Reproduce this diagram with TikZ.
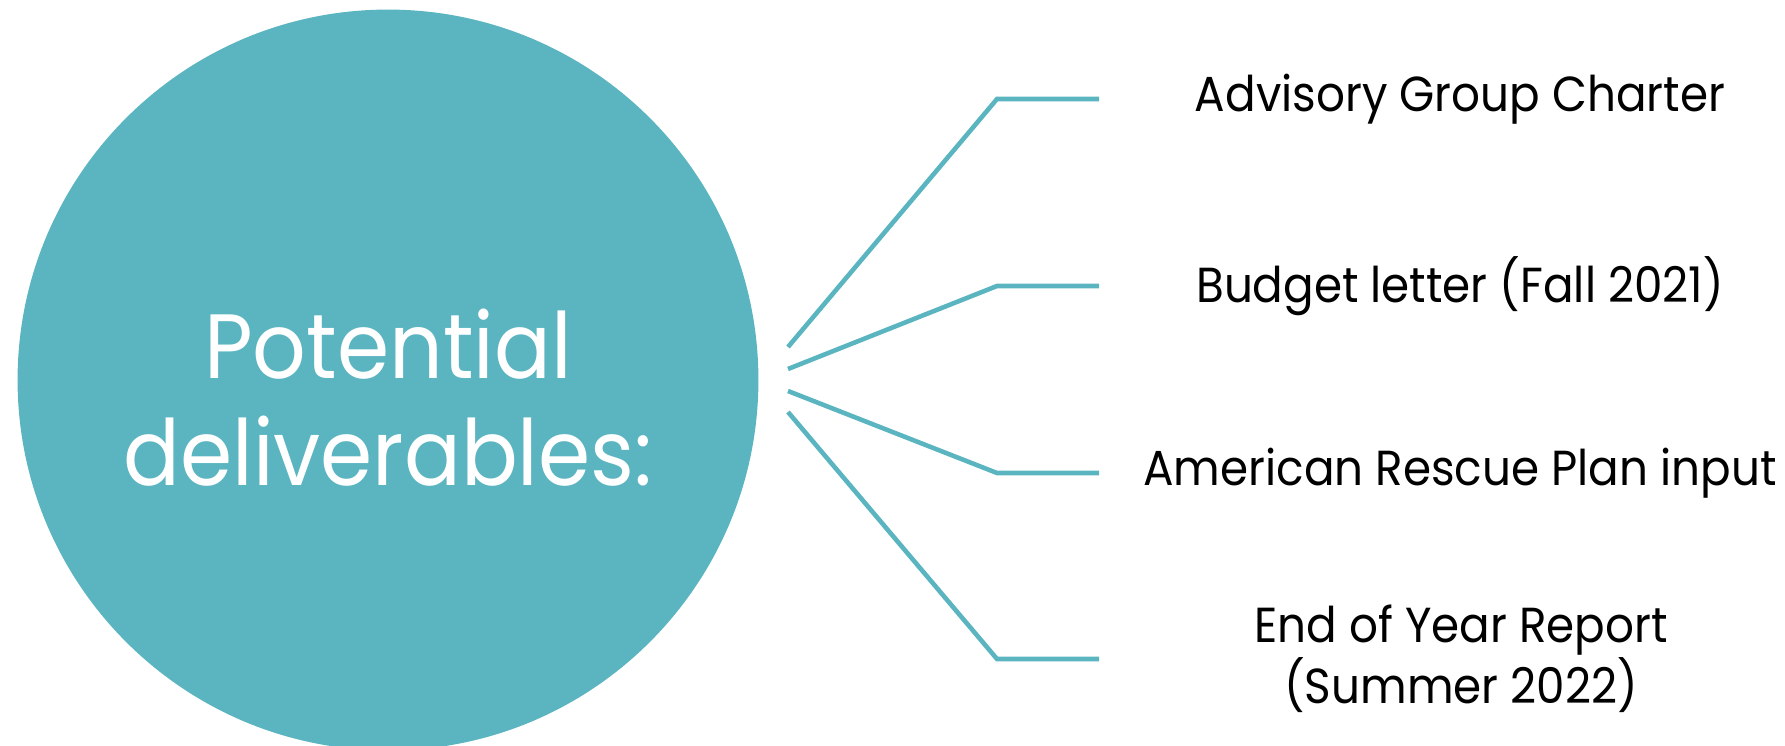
\documentclass[tikz,border=0pt]{standalone}
\usepackage{fontspec}
\usepackage{tikz}
\newfontfamily\gothic[FakeStretch=0.92]{Poppins}
\definecolor{teal}{HTML}{5AB5C1}

\begin{document}
\begin{tikzpicture}[x=0.02cm,y=-0.02cm,
		hub/.style={circle,fill=teal,minimum size=14.82cm,inner sep=0pt},
		title/.style={text=white,align=center,font=\gothic\fontsize{52}{61}\selectfont},
		item/.style={align=center,font=\gothic\fontsize{28}{31.3}\selectfont},
		branch/.style={draw=teal,line width=2.6pt}]
		\useasboundingbox (0,0) rectangle (1785,746);

		\node[hub] (hub) at (388,380) {};
		\node[title] (label) at (388,398) {Potential\\deliverables:};

		\coordinate (s1) at (788,347);
		\coordinate (s2) at (788,369);
		\coordinate (s3) at (788,391);
		\coordinate (s4) at (788,412);
		\coordinate (k1) at (997,99);
		\coordinate (k2) at (997,286);
		\coordinate (k3) at (997,473);
		\coordinate (k4) at (997,659);
		\coordinate (e1) at (1099,99);
		\coordinate (e2) at (1099,286);
		\coordinate (e3) at (1099,473);
		\coordinate (e4) at (1099,659);

		\draw[branch] (s1)--(k1)--(e1);
		\draw[branch] (s2)--(k2)--(e2);
		\draw[branch] (s3)--(k3)--(e3);
		\draw[branch] (s4)--(k4)--(e4);

		\node[item] (charter) at (1460,99) {Advisory Group Charter};
		\node[item] (budget) at (1460,286) {Budget letter (Fall 2021)};
		\node[item] (arp) at (1460,473) {American Rescue Plan input};
		\node[item] (report) at (1461,659) {End of Year Report\\(Summer 2022)};
	\end{tikzpicture}
\end{document}
